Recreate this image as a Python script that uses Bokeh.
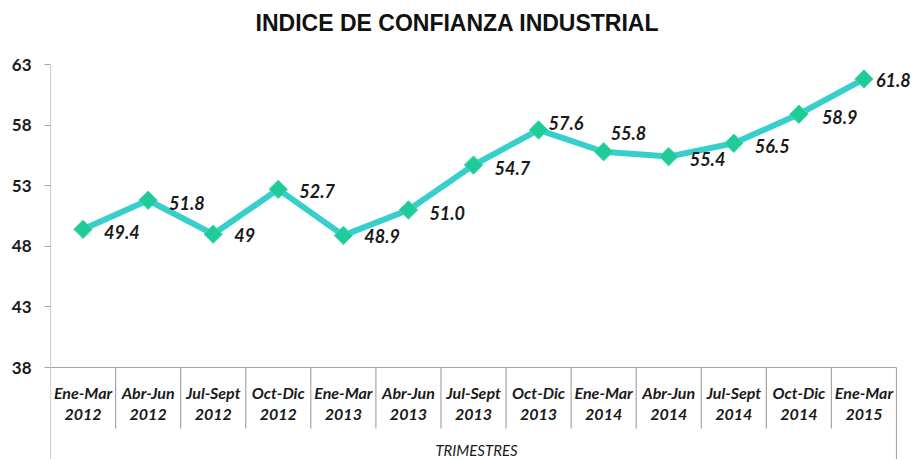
from bokeh.plotting import figure
from bokeh.models import ColumnDataSource, FixedTicker, Label
from bokeh.core.properties import value
from bokeh.embed import file_html
from bokeh.resources import INLINE

# ---- data ----
periods = ["Ene-Mar", "Abr-Jun", "Jul-Sept", "Oct-Dic", "Ene-Mar", "Abr-Jun", "Jul-Sept",
           "Oct-Dic", "Ene-Mar", "Abr-Jun", "Jul-Sept", "Oct-Dic", "Ene-Mar"]
years = ["2012", "2012", "2012", "2012", "2013", "2013", "2013",
         "2013", "2014", "2014", "2014", "2014", "2015"]
values = [49.4, 51.8, 49, 52.7, 48.9, 51.0, 54.7, 57.6, 55.8, 55.4, 56.5, 58.9, 61.8]
value_labels = ["49.4", "51.8", "49", "52.7", "48.9", "51.0", "54.7", "57.6", "55.8",
                "55.4", "56.5", "58.9", "61.8"]
y_ticks = [38, 43, 48, 53, 58, 63]
title_text = "INDICE DE CONFIANZA INDUSTRIAL"
axis_title = "TRIMESTRES"

# label placement (screen px offsets from marker)
label_dx = [21, 21, 21, 21, 21, 21, 21, 10, 7, 21, 21, 23, 12]
label_dy = [3, 3, 1, 2, 1, 3, 3, -7, -19, 2, 3, 3, 1]

W, H = 915, 459
n = len(values)
xs = [i + 0.5 for i in range(n)]
y_min, y_max = y_ticks[0], y_ticks[-1]
px_per_unit = 303 / (y_max - y_min)
y_end = y_max + 64 / px_per_unit
y_start = y_min - (H - 367) / px_per_unit
sep_bottom = y_min - 61 / px_per_unit
x_end = (W - 50) / (846 / n)

FONT = "Lato"
GRAY = "#A6A6A6"

p = figure(width=W, height=H, output_backend="svg", toolbar_location=None,
           x_range=(0, x_end), y_range=(y_start, y_end),
           x_axis_location=None, y_axis_location="left",
           min_border_left=50, min_border_right=0, min_border_top=0, min_border_bottom=0,
           outline_line_color=None, background_fill_color="white")
p.grid.visible = False

ax = p.yaxis[0]
ax.ticker = FixedTicker(ticks=y_ticks)
ax.axis_line_color = None
ax.major_tick_line_color = GRAY
ax.major_tick_out = 6
ax.major_tick_in = 0
ax.minor_tick_line_color = None
ax.major_label_standoff = 13
ax.major_label_text_font = FONT
ax.major_label_text_font_style = "bold"
ax.major_label_text_font_size = "17px"
ax.major_label_text_color = "#1a1a1a"

# axis frame lines
p.segment(x0=[0], y0=[y_start], x1=[0], y1=[y_max], line_color=GRAY, line_width=1.2)
p.segment(x0=[0], y0=[y_min], x1=[n], y1=[y_min], line_color=GRAY, line_width=1.2)
p.segment(x0=[n], y0=[y_start], x1=[n], y1=[y_min], line_color=GRAY, line_width=1.2)
p.segment(x0=list(range(1, n)), y0=[y_min] * (n - 1), x1=list(range(1, n)),
          y1=[sep_bottom] * (n - 1), line_color=GRAY, line_width=1.2)

# category labels
cat_src = ColumnDataSource(dict(x=xs, y=[y_min] * n, p=periods, yr=years))
p.text(x="x", y="y", text="p", source=cat_src, y_offset=25, text_align="center",
       text_baseline="middle", text_font=value(FONT), text_font_style="bold italic",
       text_font_size="16px", text_color="#1a1a1a")
p.text(x="x", y="y", text="yr", source=cat_src, y_offset=47, text_align="center",
       text_baseline="middle", text_font=value(FONT), text_font_style="bold italic",
       text_font_size="16px", text_color="#1a1a1a")

p.add_layout(Label(x=426, y=10, x_units="screen", y_units="screen", text=axis_title,
                   text_align="center", text_baseline="middle", text_font=FONT,
                   text_font_style="italic", text_font_size="15px", text_color="#1a1a1a"))

# series
src = ColumnDataSource(dict(x=xs, y=values, lab=value_labels, dx=label_dx, dy=label_dy))
p.line(x="x", y="y", source=src, line_color="#36CFCB", line_width=6, line_join="round")
p.scatter(x="x", y="y", source=src, marker="square", angle=0.785398, size=13,
          fill_color="#1FCB98", line_color="#3CD7B0", line_width=1)
p.text(x="x", y="y", text="lab", source=src, x_offset="dx", y_offset="dy",
       text_align="left", text_baseline="middle", text_font=value(FONT),
       text_font_style="bold italic", text_font_size="18px", text_color="#1a1a1a")

p.add_layout(Label(x=407, y=437, x_units="screen", y_units="screen", text=title_text,
                   text_align="center", text_baseline="middle", text_font="Liberation Sans",
                   text_font_style="bold", text_font_size="23px", text_color="#111111"))

open("out.html", "w").write(file_html(p, INLINE))
